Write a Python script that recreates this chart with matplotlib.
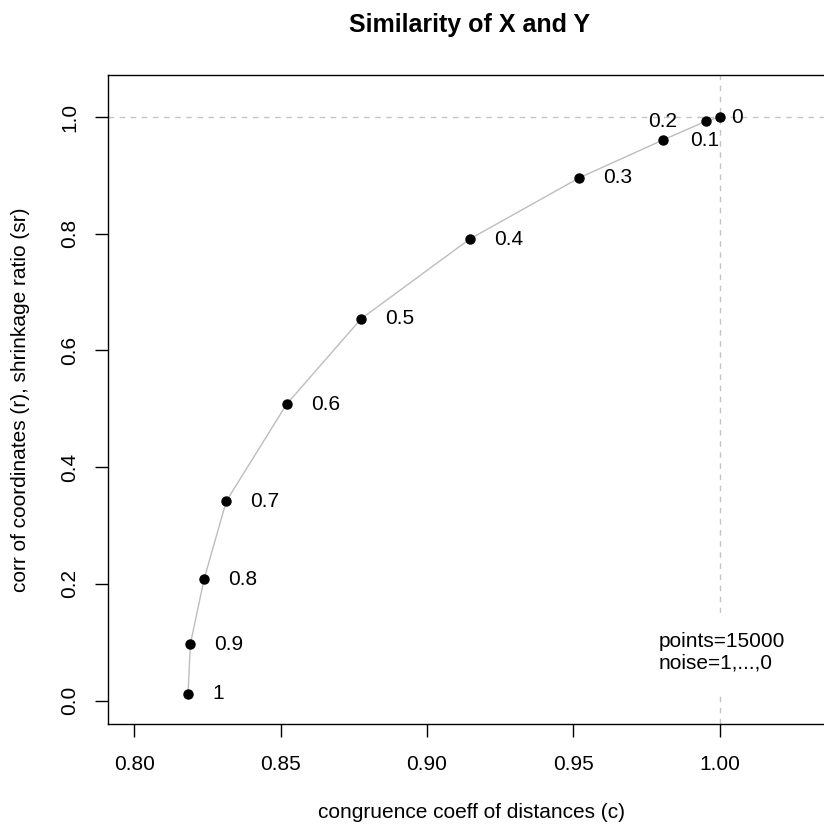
import matplotlib
matplotlib.use("Agg")
import matplotlib.pyplot as plt

plt.rcParams['font.family'] = ['Liberation Sans', 'DejaVu Sans']
plt.rcParams['lines.scale_dashes'] = False

# noise level -> (congruence coeff c, corr r)
noise = ['1', '0.9', '0.8', '0.7', '0.6', '0.5', '0.4', '0.3', '0.2', '0.1', '0']
cong = [0.8183, 0.8191, 0.8238, 0.8314, 0.8520, 0.8774, 0.9146, 0.9521, 0.9806, 0.9954, 1.0]
corr = [0.0115, 0.0971, 0.2085, 0.3420, 0.5080, 0.6540, 0.7910, 0.8960, 0.9606, 0.9930, 1.0]

xticks = [0.80, 0.85, 0.90, 0.95, 1.00]
yticks = [0.0, 0.2, 0.4, 0.6, 0.8, 1.0]

W, H = 824, 826
fig = plt.figure(figsize=(W / 100, H / 100), dpi=100)
ax = fig.add_axes([107.7 / W, 1 - 724 / H, (834 - 107.7) / W, (724 - 75) / H])

ax.axhline(1.0, color='#c4c4c4', lw=1.0, dashes=(4, 4), zorder=1)
ax.axvline(1.0, color='#c4c4c4', lw=1.0, dashes=(4, 4), zorder=1)

ax.plot(cong, corr, color='#bdbdbd', lw=1.0, zorder=2)
ax.plot(cong, corr, 'o', color='black', ms=6.5, zorder=3)

# label placement in pixels; the top points crowd together
for i, lab in enumerate(noise):
    dx, dy, ha = 24, 0, 'left'
    if lab == '0.2':
        dx, dy, ha = 0, 19, 'center'
    elif lab == '0.1':
        dx, dy, ha = -1, -19, 'center'
    elif lab == '0':
        dx = 12
    ax.annotate(lab, (cong[i], corr[i]), xytext=(dx, dy), textcoords='offset pixels',
                ha=ha, va='center', fontsize=15, zorder=4)

ax.text(0.9793, 0.083, 'points=15000\nnoise=1,...,0', ha='left', va='center',
        fontsize=15, linespacing=1.15, zorder=5,
        bbox=dict(facecolor='white', edgecolor='none', pad=14))

ax.set_xlim(0.79084, 1.0391)
ax.set_ylim(-0.0399, 1.0720)
ax.set_xticks(xticks)
ax.set_xticklabels(['%.2f' % v for v in xticks])
ax.set_yticks(yticks)
ax.set_yticklabels(['%.1f' % v for v in yticks], rotation=90, va='center')
ax.tick_params(axis='both', direction='out', length=9.5, width=1.0, labelsize=15, pad=13)
ax.tick_params(axis='y', pad=11)
for s in ax.spines.values():
    s.set_linewidth(1.0)

fig.text(470 / W, 1 - 25 / H, 'Similarity of X and Y', ha='center', va='center',
         fontsize=18, fontweight='bold')
fig.text(471 / W, 1 - 813 / H, 'congruence coeff of distances (c)', ha='center', va='center',
         fontsize=15)
fig.text(21 / W, 1 - 399.5 / H, 'corr of coordinates (r), shrinkage ratio (sr)', ha='center',
         va='center', rotation=90, fontsize=15)

fig.savefig('out.png', dpi=100)
